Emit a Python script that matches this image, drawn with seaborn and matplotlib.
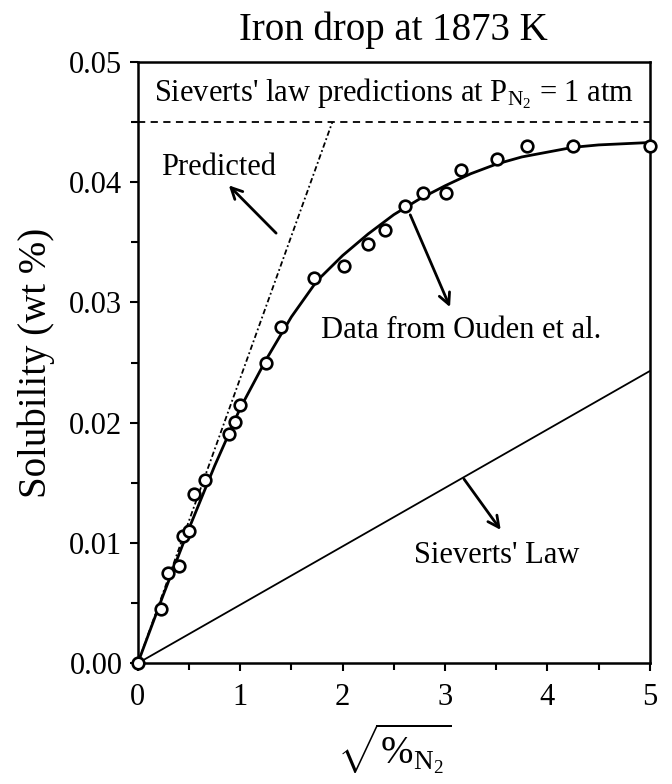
import numpy as np
import pandas as pd
import matplotlib
matplotlib.use("Agg")
from matplotlib import pyplot as plt
from matplotlib.ticker import MultipleLocator, FormatStrFormatter
import seaborn as sns

sqrt_n2 = [0, 0.23, 0.30, 0.40, 0.44, 0.50, 0.55, 0.66, 0.89, 0.95, 1.00,
           1.25, 1.40, 1.72, 2.01, 2.25, 2.41, 2.61, 2.79, 3.01, 3.16,
           3.51, 3.80, 4.25, 5.00]
solubility = [0, 0.0045, 0.0075, 0.0081, 0.0106, 0.0110, 0.0141, 0.0152,
              0.0191, 0.0201, 0.0215, 0.0250, 0.0280, 0.0320, 0.0330, 0.0349,
              0.0360, 0.0380, 0.0391, 0.0391, 0.0410, 0.0419, 0.0430, 0.0430,
              0.0430]

# fitted curve through the data
fit_x = [0, 0.25, 0.5, 0.75, 1.0, 1.25, 1.5, 1.75, 2.0, 2.25, 2.5, 2.75,
         3.0, 3.25, 3.5, 3.75, 4.0, 4.25, 4.5, 4.75, 5.0]
fit_y = [0, 0.0057, 0.0112, 0.0164, 0.0212, 0.0252, 0.0288, 0.0318, 0.0339,
         0.0357, 0.0373, 0.0386, 0.0397, 0.0407, 0.0415, 0.0421, 0.0425,
         0.0429, 0.0431, 0.0432, 0.0433]

# predicted (dotted) and Sieverts' law lines
pred_x = [0, 1.9]
pred_y = [0, 0.045]
sievert_x = [0, 5]
sievert_y = [0, 0.0243]

# Sieverts' law prediction at P_N2 = 1 atm
limit_x = [0, 5]
limit_y = [0.045, 0.045]

sns.set_style("ticks", {"axes.edgecolor": "black", "text.color": "black",
                        "xtick.color": "black", "ytick.color": "black",
                        "axes.labelcolor": "black"})
plt.rcParams['font.family'] = ['Liberation Serif', 'DejaVu Serif']
plt.rcParams['mathtext.fontset'] = 'custom'
plt.rcParams['mathtext.rm'] = 'Liberation Serif'
plt.rcParams['mathtext.it'] = 'Liberation Serif:italic'

fig = plt.figure(figsize=(6.72, 7.84), dpi=100)
ax = fig.add_axes([0.205, 0.154, 0.762, 0.767])

pts = pd.DataFrame({"x": sqrt_n2, "y": solubility})
fit = pd.DataFrame({"x": fit_x, "y": fit_y})

sns.lineplot(x=limit_x, y=limit_y, ax=ax, color='black', lw=1.3,
             linestyle=(0, (4, 3)))
sns.lineplot(x=pred_x, y=pred_y, ax=ax, color='black', lw=1.3,
             linestyle=(0, (1, 1.5, 3, 1.5)))
sns.lineplot(x=sievert_x, y=sievert_y, ax=ax, color='black', lw=1.3)
sns.lineplot(data=fit, x="x", y="y", ax=ax, color='black', lw=2)
sns.scatterplot(data=pts, x="x", y="y", ax=ax, marker='o', s=70,
                facecolor='white', edgecolor='black', linewidth=1.9,
                zorder=5, clip_on=False)

ax.set_xlim(0, 5)
ax.set_ylim(0, 0.05)
ax.xaxis.set_major_locator(MultipleLocator(1))
ax.xaxis.set_minor_locator(MultipleLocator(0.5))
ax.yaxis.set_major_locator(MultipleLocator(0.01))
ax.yaxis.set_minor_locator(MultipleLocator(0.005))
ax.yaxis.set_major_formatter(FormatStrFormatter('%.2f'))
ax.tick_params(which='major', length=6, width=1.5, labelsize=22)
ax.tick_params(which='minor', length=5, width=1.5)
ax.tick_params(axis='x', which='major', pad=8)
ax.tick_params(axis='y', which='major', pad=5)
for s in ax.spines.values():
    s.set_linewidth(1.8)

ax.set_title("Iron drop at 1873 K", fontsize=28, pad=16)
ax.set_xlabel(r"$\sqrt{\%_{\mathrm{N_2}}}$", fontsize=28, labelpad=7)
ax.set_ylabel("Solubility (wt %)", fontsize=28, labelpad=10)

ax.text(2.5, 0.0474, r"Sieverts' law predictions at P$_{\mathrm{N_2}}$ = 1 atm",
        ha='center', va='center', fontsize=22)
ax.text(0.79, 0.0412, "Predicted", ha='center', va='center', fontsize=22)
ax.text(3.16, 0.0277, "Data from Ouden et al.", ha='center', va='center',
        fontsize=22)
ax.text(3.5, 0.0090, "Sieverts' Law", ha='center', va='center', fontsize=22)

arrow = dict(arrowstyle='->,head_length=0.8,head_width=0.4', color='black',
             lw=2)
ax.annotate("", xy=(0.87, 0.0399), xytext=(1.37, 0.0356), arrowprops=arrow)
ax.annotate("", xy=(3.06, 0.0294), xytext=(2.65, 0.0375), arrowprops=arrow)
ax.annotate("", xy=(3.56, 0.0109), xytext=(3.17, 0.0155), arrowprops=arrow)

fig.savefig("out.png", dpi=100)
